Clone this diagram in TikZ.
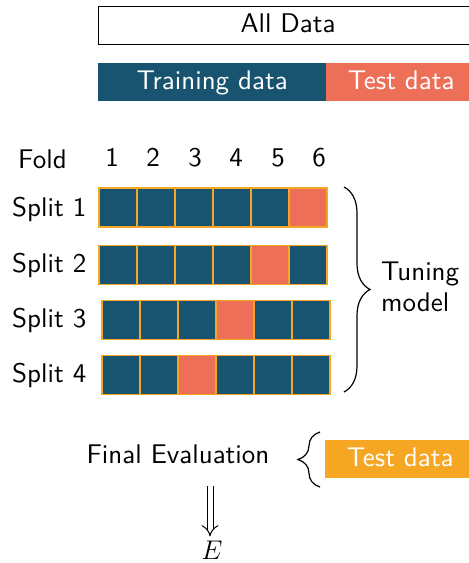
\RequirePackage{fix-cm}
\documentclass[tikz,border=0pt]{standalone}
\usepackage{fontspec}
\newfontfamily\lmsten{lmsans10-regular.otf}
\usetikzlibrary{decorations.pathreplacing,arrows.meta}
\definecolor{deepblue}{HTML}{18536F}
\definecolor{salmon}{HTML}{EE6F57}
\definecolor{amber}{HTML}{F5A623}
\begin{document}
\begin{tikzpicture}[x=1pt,y=-1pt,
  every node/.style={font=\lmsten\fontsize{27}{31}\selectfont, inner sep=0pt},
  txt/.style={anchor=base},
  bar/.style={anchor=north west, minimum height=38, text=white, text height=19, text depth=5},
  cell/.style={anchor=north west, draw=amber, line width=1.5, minimum width=38, minimum height=39, fill=deepblue},
  brc/.style={decorate, line width=1.2, draw=black}]
\clip (0,0) rectangle (469,563);

% data partition
\node[bar, draw=black, line width=1.2, text=black, minimum width=379] (all) at (98,6) {All Data};
\node[bar, fill=deepblue, minimum width=228] (train) at (98,63) {Training data};
\node[bar, fill=salmon, minimum width=150] (test) at (326,63) {Test data};

% fold header
\node[anchor=base west] (fold) at (18,168) {Fold};
\foreach \k/\x in {1/112,2/153,3/195,4/236,5/278,6/319}
  \node[txt] (f\k) at (\x,166) {\k};

% splits: row / top / left / held-out fold / label baseline
\foreach \r/\t/\l/\h/\b in {1/187/98/6/216, 2/244.5/98/5/272, 3/299.5/101/4/327.7, 4/354.5/101/3/382.7}{
  \node[anchor=base west] (s\r) at (12,\b) {Split \r};
  \foreach \c in {1,...,6}{
    \pgfmathsetmacro\cx{\l+38*(\c-1)}
    \ifnum\c=\h
      \node[cell, fill=salmon] (c\r-\c) at (\cx,\t) {};
    \else
      \node[cell] (c\r-\c) at (\cx,\t) {};
    \fi
  }
}

% tuning brace
\coordinate (bt) at (344,187);
\coordinate (bb) at (344,392);
\draw[brc, decoration={brace, amplitude=26pt}] (bt) -- (bb);
\node[anchor=base west] (tune1) at (381,280) {Tuning};
\node[anchor=base west] (tune2) at (381,311) {model};

% final evaluation
\node[txt] (final) at (178,463) {Final Evaluation};
\node[bar, fill=amber, minimum width=150] (test2) at (325,440) {Test data};
\coordinate (lb) at (320,487);
\coordinate (lt) at (320,432);
\draw[brc, decoration={brace, amplitude=22pt}] (lb) -- (lt);

\node[txt] (E) at (212,559) {$E$};
\coordinate (atop) at (210,486);
\draw[double, double distance=5pt, line width=1pt, -{Implies}, shorten >=4pt] (atop) -- (atop |- E.north);
\end{tikzpicture}
\end{document}
